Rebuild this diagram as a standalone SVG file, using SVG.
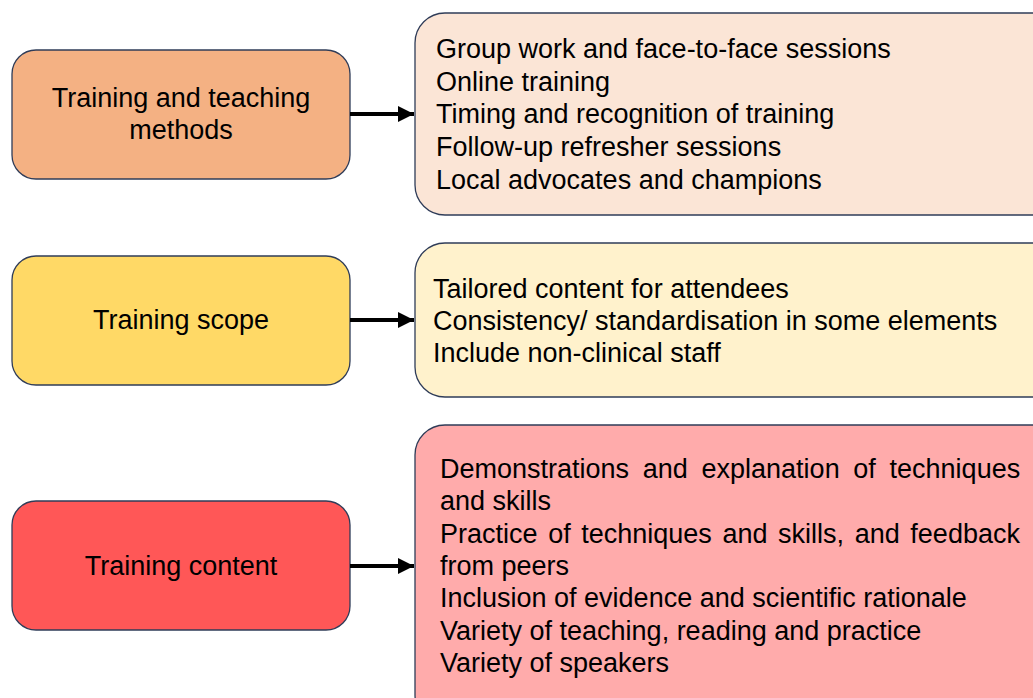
<svg xmlns="http://www.w3.org/2000/svg" width="1033" height="698" viewBox="0 0 1033 698">
<style>
.box{stroke:#2f3c58;stroke-width:1.3}
.t{font-family:"Liberation Sans",Arial,sans-serif;font-size:27px;fill:#000}
.c{text-anchor:middle}
.arrow{stroke:#000;stroke-width:4;fill:none}
</style>
<defs>
<marker id="ah" viewBox="0 0 10 10" refX="10" refY="5" markerWidth="4" markerHeight="4" orient="auto" markerUnits="strokeWidth">
<path d="M0,0 L10,5 L0,10 z" fill="#000"/>
</marker>
</defs>
<rect width="1033" height="698" fill="#fff"/>
<g id="n1">
<rect class="box" x="12" y="50" width="338" height="129" rx="24" fill="#f4b183"/>
<text class="t c" x="181" y="107">Training and teaching</text>
<text class="t c" x="181" y="139">methods</text>
</g>
<g id="n2">
<rect class="box" x="12" y="256" width="338" height="129" rx="24" fill="#ffd966"/>
<text class="t c" x="181" y="329">Training scope</text>
</g>
<g id="n3">
<rect class="box" x="12" y="501" width="338" height="129" rx="24" fill="#ff5757"/>
<text class="t c" x="181" y="575">Training content</text>
</g>
<g id="d1">
<rect class="box" x="415" y="13" width="650" height="202" rx="30" fill="#fbe5d6"/>
<text class="t" x="436" y="58">Group work and face-to-face sessions</text>
<text class="t" x="436" y="91">Online training</text>
<text class="t" x="436" y="123">Timing and recognition of training</text>
<text class="t" x="436" y="156">Follow-up refresher sessions</text>
<text class="t" x="436" y="189">Local advocates and champions</text>
</g>
<g id="d2">
<rect class="box" x="415" y="243" width="650" height="154" rx="30" fill="#fff2cc"/>
<text class="t" x="433" y="298">Tailored content for attendees</text>
<text class="t" x="433" y="330">Consistency/ standardisation in some elements</text>
<text class="t" x="433" y="362">Include non-clinical staff</text>
</g>
<g id="d3">
<rect class="box" x="415" y="425" width="650" height="300" rx="30" fill="#ffabab"/>
<text class="t" x="440" y="478" word-spacing="6.2">Demonstrations and explanation of techniques</text>
<text class="t" x="440" y="510">and skills</text>
<text class="t" x="440" y="543" word-spacing="3.1">Practice of techniques and skills, and feedback</text>
<text class="t" x="440" y="575">from peers</text>
<text class="t" x="440" y="607">Inclusion of evidence and scientific rationale</text>
<text class="t" x="440" y="640">Variety of teaching, reading and practice</text>
<text class="t" x="440" y="672">Variety of speakers</text>
</g>
<g id="connectors">
<line class="arrow" x1="350" y1="114" x2="414" y2="114" marker-end="url(#ah)"/>
<line class="arrow" x1="350" y1="320" x2="414" y2="320" marker-end="url(#ah)"/>
<line class="arrow" x1="350" y1="566" x2="414" y2="566" marker-end="url(#ah)"/>
</g>
</svg>
